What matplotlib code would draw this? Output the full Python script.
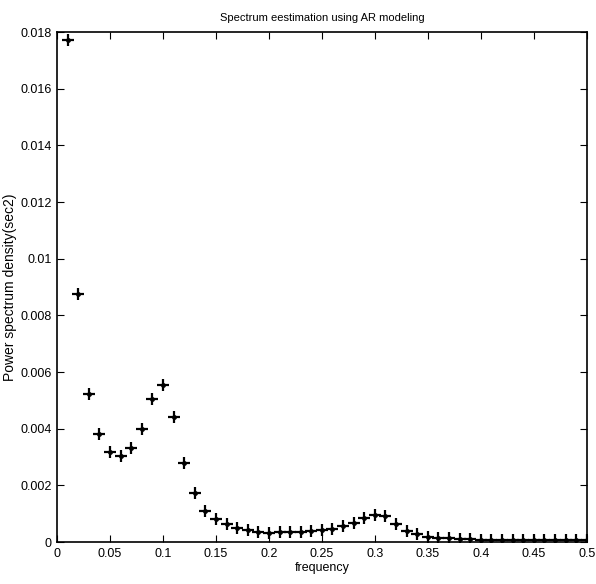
import matplotlib
matplotlib.use("Agg")
import matplotlib.pyplot as plt
import numpy as np

# AR model power spectrum estimate, 0.01 .. 0.50
freq = np.arange(1, 51) / 100.0
psd = [
    0.01774, 0.00875, 0.00522, 0.00380, 0.00318, 0.00305, 0.00333, 0.00400,
    0.00504, 0.00554, 0.00442, 0.00278, 0.00172, 0.00110, 0.00081, 0.00062,
    0.00050, 0.00041, 0.00036, 0.00033, 0.00034, 0.00034, 0.00034, 0.00038,
    0.00042, 0.00047, 0.00055, 0.00068, 0.00086, 0.00096, 0.00092, 0.00064,
    0.00040, 0.00028, 0.00018, 0.00013, 0.00013, 0.00010, 0.00009, 0.00008,
    0.00008, 0.00008, 0.00007, 0.00007, 0.00007, 0.00007, 0.00006, 0.00006,
    0.00006, 0.00006,
]
xticks = [0, 0.05, 0.1, 0.15, 0.2, 0.25, 0.3, 0.35, 0.4, 0.45, 0.5]
xticklabels = ["0", "0.05", "0.1", "0.15", "0.2", "0.25", "0.3", "0.35", "0.4", "0.45", "0.5"]
yticks = [0, 0.002, 0.004, 0.006, 0.008, 0.01, 0.012, 0.014, 0.016, 0.018]
yticklabels = ["0", "0.002", "0.004", "0.006", "0.008", "0.01", "0.012", "0.014", "0.016", "0.018"]

plt.rcParams["font.family"] = ["Liberation Sans Narrow", "Liberation Sans", "DejaVu Sans"]

fig = plt.figure(figsize=(5.96, 5.84), dpi=100)
ax = fig.add_axes([0.0956, 0.0719, 0.889, 0.873])

ax.plot(freq, psd, linestyle="none", marker="+", color="black",
        markersize=8, markeredgewidth=1.6)
ax.plot(freq, psd, linestyle="none", marker="o", color="black",
        markersize=2.5)

ax.set_xlim(0, 0.5)
ax.set_ylim(0, 0.018)
ax.set_xticks(xticks)
ax.set_xticklabels(xticklabels)
ax.set_yticks(yticks)
ax.set_yticklabels(yticklabels)
ax.tick_params(direction="in", top=True, right=True, length=5, width=0.8,
               labelsize=9, pad=4)
for s in ax.spines.values():
    s.set_linewidth(1.2)

ax.set_xlabel("frequency", fontsize=9, labelpad=2)
ax.set_ylabel("Power spectrum density(sec2)", fontsize=10, labelpad=2)
ax.set_title("Spectrum eestimation using AR modeling", fontsize=8, pad=8)

fig.savefig("out.png", dpi=100)
